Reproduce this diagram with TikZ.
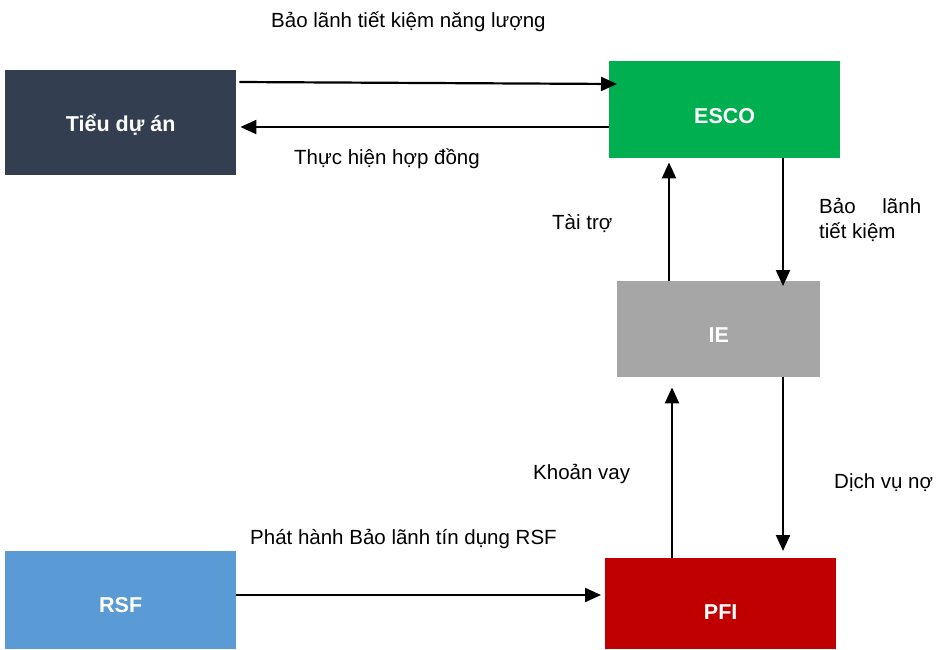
\documentclass[tikz,border=0pt]{standalone}
\usepackage{fontspec}
\setmainfont{Liberation Sans}
\usetikzlibrary{arrows.meta,calc}
\definecolor{navybox}{HTML}{333F50}
\definecolor{greenbox}{HTML}{00B050}
\definecolor{graybox}{HTML}{A6A6A6}
\definecolor{bluebox}{HTML}{5B9BD5}
\definecolor{redbox}{HTML}{C00000}
\tikzset{
  unitbox/.style={draw=none, anchor=north west, inner sep=0pt, text=white,
    text depth=0pt, font=\fontsize{21.5}{25}\selectfont\bfseries},
  flow/.style={line width=2.2pt, -{Triangle[length=16pt,width=14pt]}},
  caption/.style={anchor=west, inner sep=0pt, font=\fontsize{20.5}{25}\selectfont}
}
\begin{document}
\begin{tikzpicture}[x=1pt,y=-1pt]
\useasboundingbox (0,0) rectangle (942,649);

% boxes (text height sets where the label baseline sits)
\node[unitbox, fill=navybox, text height=17pt, minimum width=231pt, minimum height=105pt] (tda) at (5,70) {Tiểu dự án};
\node[unitbox, fill=greenbox, text height=27pt, minimum width=231pt, minimum height=97pt] (esco) at (609,61) {ESCO};
\node[unitbox, fill=graybox, text height=26pt, minimum width=203pt, minimum height=96pt] (ie) at (617,281) {IE};
\node[unitbox, fill=bluebox, text height=25pt, minimum width=231pt, minimum height=98pt] (rsf) at (5,551) {RSF};
\node[unitbox, fill=redbox, text height=31pt, minimum width=231pt, minimum height=91pt] (pfi) at (605,558) {PFI};

% connectors
\draw[flow] ($(tda.north east)+(3,12)$) -- ($(esco.north west)+(8,23)$);
\draw[flow] ($(esco.north west)+(0,66)$) -- ($(tda.north east)+(4,57)$);
\draw[flow] ($(ie.north west)+(52,0)$) -- ($(esco.south west)+(60,4)$);
\draw[flow] ($(esco.south west)+(174,0)$) -- ($(ie.north west)+(166,5)$);
\draw[flow] ($(pfi.north west)+(67,0)$) -- ($(ie.south west)+(55,10)$);
\draw[flow] ($(ie.south west)+(166,0)$) -- ($(pfi.north west)+(178,-7)$);
\draw[flow] ($(rsf.north east)+(0,44)$) -- ($(pfi.north west)+(-4,37)$);

% labels
\node[caption] (l1) at (271,22) {Bảo lãnh tiết kiệm năng lượng};
\node[caption] (l2) at (294,159) {Thực hiện hợp đồng};
\node[caption] (l3) at (552,224) {Tài trợ};
\node[caption, align=left, anchor=north west] (l4) at (819,198) {\makebox[102pt][s]{Bảo\hfill lãnh}\\tiết kiệm};
\node[caption] (l5) at (533,474) {Khoản vay};
\node[caption] (l6) at (834,483) {Dịch vụ nợ};
\node[caption] (l7) at (250,539) {Phát hành Bảo lãnh tín dụng RSF};
\end{tikzpicture}
\end{document}
